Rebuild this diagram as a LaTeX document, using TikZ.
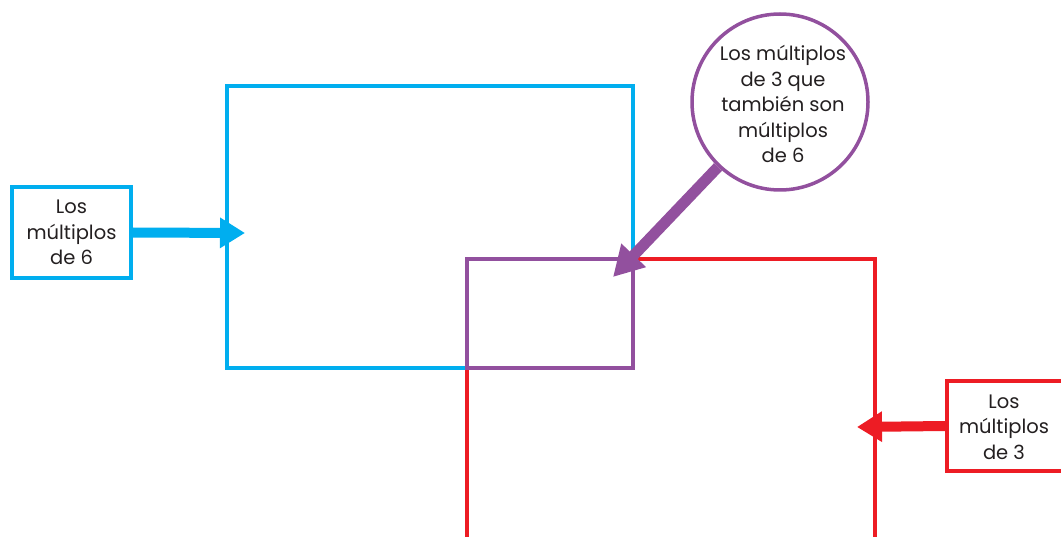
\documentclass[tikz,border=0pt]{standalone}
\usepackage{fontspec}
\setmainfont{Poppins}
\usetikzlibrary{arrows.meta}
\definecolor{cblue}{RGB}{0,174,239}
\definecolor{cred}{RGB}{237,28,36}
\definecolor{cpurple}{RGB}{146,80,158}
\definecolor{ctext}{RGB}{35,31,32}
\tikzset{
  lbl/.style={align=center, text=ctext, inner sep=0pt, font=\fontsize{19.5}{25.5}\selectfont},
  region/.style={line width=4pt, inner sep=0pt, fill=none},
  labelbox/.style={line width=3.5pt, inner sep=0pt, fill=white},
  fatarrow/.style={line width=10pt, -{Triangle[length=25pt,width=29pt]}}
}
\begin{document}
\begin{tikzpicture}[x=1pt,y=-1pt]
\clip (0,0) rectangle (1061,537);
% regions
\node[region, draw=cblue, minimum width=406pt, minimum height=282pt] (sixes) at (430,227) {};
\coordinate (rtl) at (633,259);
\coordinate (rtr) at (875,259);
\coordinate (rbr) at (875,545);
\coordinate (rlt) at (467,368);
\coordinate (rlb) at (467,545);
\draw[cred, line width=4pt] (rtl) -- (rtr) -- (rbr);
\draw[cred, line width=4pt] (rlt) -- (rlb);
\node[region, draw=cpurple, minimum width=166pt, minimum height=109pt] (both) at (550,313.5) {};
% labels
\node[labelbox, draw=cblue, minimum width=119pt, minimum height=91pt] (l6) at (71.5,232.5) {};
\node[lbl] at (l6) {Los\\múltiplos\\de 6};
\node[labelbox, draw=cred, minimum width=140pt, minimum height=90pt] (l3) at (1017,426) {};
\node[lbl] at (1004,427) {Los\\múltiplos\\de 3};
\node[labelbox, draw=cpurple, circle, minimum size=176pt] (c) at (780,102) {};
\node[lbl] at (783,104) {Los múltiplos\\de 3 que\\también son\\múltiplos\\de 6};
% arrows
\coordinate (bt) at (245,233);
\coordinate (rt) at (857,427);
\coordinate (pt) at (613,277);
\draw[cblue, fatarrow] (l6.east) -- (bt);
\draw[cred, fatarrow] (l3.west) -- (rt);
\draw[cpurple, line width=11pt, -{Triangle[length=30pt,width=32pt]}] (c) -- (pt);
\end{tikzpicture}
\end{document}
